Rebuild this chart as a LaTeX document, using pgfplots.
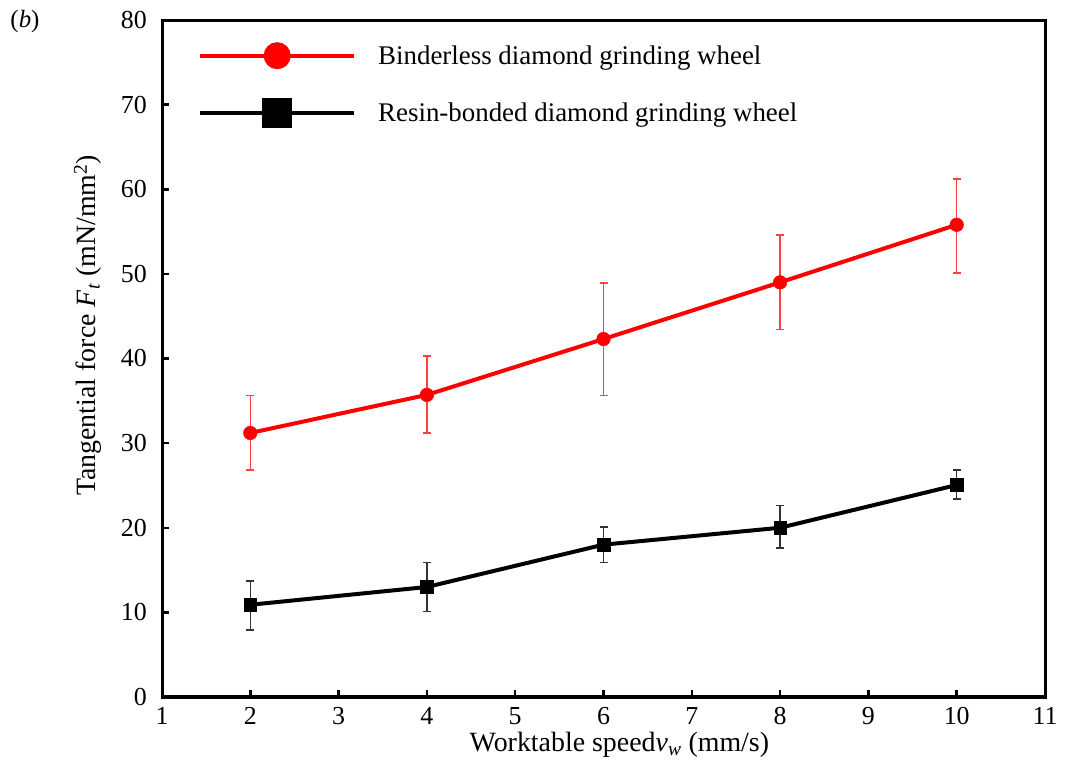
\documentclass[border=0pt]{standalone}
\usepackage{pgfplots}
\pgfplotsset{compat=1.18}
\usepackage{fontspec}
\setmainfont{Liberation Serif}
\begin{document}
\begin{tikzpicture}
\useasboundingbox (0bp,0bp) rectangle (1067bp,765bp);
\node[font=\fontsize{25}{25}\selectfont] at (25bp,743bp) {(\textit{b})};
\begin{axis}[
  at={(162bp,68bp)}, anchor=south west,
  width=883bp, height=677bp, scale only axis,
  xmin=1, xmax=11, ymin=0, ymax=80,
  xtick={1,2,...,11}, ytick={0,10,...,80},
  tick align=inside, xtick pos=bottom, ytick pos=left,
  major tick length=7bp,
  axis line style={line width=3bp},
  tick style={line width=2.5bp, black},
  /pgf/number format/assume math mode=true,
  tick label style={font=\fontsize{26}{26}\selectfont},
  xticklabel style={inner sep=0pt, yshift=-10bp},
  yticklabel style={inner sep=0pt, xshift=-15bp},
  label style={font=\fontsize{28}{28}\selectfont},
  xlabel={Worktable speed\textit{v}\textsubscript{\textit{w}} (mm/s)},
  xlabel style={at={(axis description cs:0.518,0)}, anchor=center, yshift=-48bp},
  ylabel={Tangential force \textit{F}\textsubscript{\textit{t}} (mN/mm\textsuperscript{2})},
  ylabel style={at={(axis description cs:-0.0838,0.549)}, anchor=center},
  legend style={draw=none, fill=none, at={(axis description cs:0,1)}, anchor=north west,
    xshift=36bp, yshift=-22bp, inner sep=0pt, row sep=29bp,
    font=\fontsize{27}{27}\selectfont, column sep=0bp,
    /tikz/every odd column/.append style={column sep=22bp},
    nodes={inner sep=0pt, anchor=west}},
  legend cell align=left,
]
\addplot[red, line width=4bp, mark=*, mark size=6.8bp, mark options={solid, line width=0.5bp},
  legend image code/.code={
    \draw[red, line width=4bp] (0bp,0bp) -- (154bp,0bp);
    \fill[red] (77bp,0bp) circle (11.5bp);},
  error bars/.cd, y dir=both, y explicit,
  error bar style={line width=1.5bp, red!75},
  error mark options={rotate=90, line width=1.5bp, red!75, mark size=4bp},
  ] 
  coordinates {
  (2,31.2) += (0,4.4) -= (0,4.4)
  (4,35.7) += (0,4.6) -= (0,4.5)
  (6,42.3) += (0,6.6) -= (0,6.7)
  (8,49.0) += (0,5.6) -= (0,5.6)
  (10,55.8) += (0,5.4) -= (0,5.7)
  };
\addplot[black, line width=4bp, mark=square*, mark size=6.3bp, mark options={solid, line width=0.5bp},
  legend image code/.code={
    \draw[black, line width=4bp] (0bp,0bp) -- (154bp,0bp);
    \fill[black] (64bp,-13bp) rectangle (90bp,13bp);},
  error bars/.cd, y dir=both, y explicit,
  error bar style={line width=1.5bp, black!80},
  error mark options={rotate=90, line width=1.5bp, black!80, mark size=4bp},
  ]
  coordinates {
  (2,10.9) += (0,2.8) -= (0,3.0)
  (4,13.0) += (0,2.9) -= (0,2.9)
  (6,18.0) += (0,2.1) -= (0,2.1)
  (8,20.0) += (0,2.6) -= (0,2.4)
  (10,25.05) += (0,1.75) -= (0,1.65)
  };
\legend{Binderless diamond grinding wheel,Resin-bonded diamond grinding wheel}
\end{axis}
\end{tikzpicture}
\end{document}
